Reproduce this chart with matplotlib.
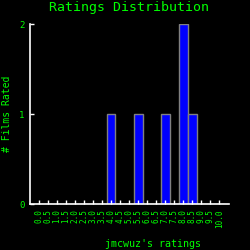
import numpy as np
import matplotlib
matplotlib.use('Agg')
import matplotlib.pyplot as plt

# data
nilai = [0.0, 0.5, 1.0, 1.5, 2.0, 2.5, 3.0, 3.5, 4.0, 4.5, 5.0,
         5.5, 6.0, 6.5, 7.0, 7.5, 8.0, 8.5, 9.0, 9.5, 10.0]
jumlah = [0, 0, 0, 0, 0, 0, 0, 0, 1, 0, 0,
          1, 0, 0, 1, 0, 2, 1, 0, 0, 0]
labelX = ['%.1f' % v for v in nilai]

judul = 'Ratings Distribution'
sumbuX = "jmcwuz's ratings"
sumbuY = '# Films Rated'

hijau = '#00ff00'
plt.rcParams['font.family'] = ['DejaVu Sans Mono']

fig = plt.figure(figsize=(2.5, 2.5), dpi=100, facecolor='black')
ax = fig.add_axes([0.12, 0.184, 0.794, 0.72], facecolor='black')

ax.bar(nilai, jumlah, 0.47, color='#0000ff', edgecolor='#808080', linewidth=1.0)

ax.set_xlim(-0.5, 10.5)
ax.set_ylim(0, 2)
ax.set_xticks(nilai)
ax.set_xticklabels(labelX, rotation=90, fontsize=5.5, color=hijau)
ax.set_yticks([0, 1, 2])
ax.set_yticklabels(['0', '1', '2'], fontsize=6.5, color=hijau)
ax.tick_params(axis='both', direction='in', length=3, width=1, colors='white', pad=4)
ax.tick_params(axis='x', labelcolor=hijau)
ax.tick_params(axis='y', labelcolor=hijau)

for s in ['top', 'right']:
    ax.spines[s].set_visible(False)
for s in ['left', 'bottom']:
    ax.spines[s].set_color('white')
    ax.spines[s].set_linewidth(1.2)

fig.text(0.516, 0.968, judul, color=hijau, fontsize=9.5, ha='center', va='center')
fig.text(0.612, 0.024, sumbuX, color=hijau, fontsize=7.2, ha='center', va='center')
fig.text(0.028, 0.544, sumbuY, color=hijau, fontsize=7, ha='center', va='center',
         rotation=90)

fig.savefig('out.png', dpi=100, facecolor='black')
plt.close(fig)
